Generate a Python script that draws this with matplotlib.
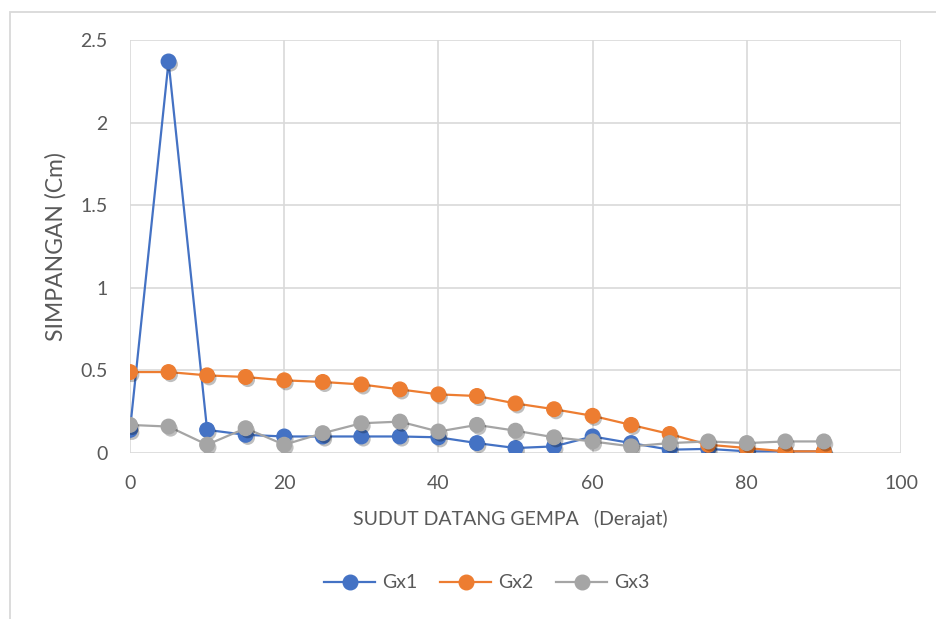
import numpy as np
import matplotlib.pyplot as plt
import matplotlib.patheffects as pe
from matplotlib.patches import Rectangle

plt.rcParams["font.family"] = ["Lato", "DejaVu Sans"]
plt.rcParams["font.size"] = 14

# sudut datang gempa (derajat)
sudut = [0, 5, 10, 15, 20, 25, 30, 35, 40, 45, 50, 55, 60, 65, 70, 75, 80, 85, 90]
# simpangan (cm)
gx1 = [0.14, 2.37, 0.14, 0.11, 0.10, 0.10, 0.10, 0.10, 0.095, 0.06, 0.03, 0.04,
       0.10, 0.06, 0.02, 0.025, 0.01, 0.01, 0.01]
gx2 = [0.49, 0.49, 0.47, 0.46, 0.44, 0.43, 0.415, 0.385, 0.355, 0.345, 0.30, 0.265,
       0.225, 0.17, 0.115, 0.05, 0.03, 0.01, 0.01]
gx3 = [0.17, 0.16, 0.05, 0.15, 0.05, 0.12, 0.18, 0.19, 0.13, 0.17, 0.135, 0.095,
       0.07, 0.04, 0.06, 0.07, 0.06, 0.07, 0.07]
nama = ["Gx1", "Gx2", "Gx3"]
warna = ["#4472C4", "#ED7D31", "#A5A5A5"]

teks = "#595959"
garis = "#D9D9D9"

fig = plt.figure(figsize=(9.36, 6.19), dpi=100)
# bingkai luar chart
fig.patches.append(Rectangle((10 / 936, -0.1), 1.2, 1.1 - 12 / 619,
                             transform=fig.transFigure, fill=False,
                             edgecolor=garis, linewidth=1.3))
ax = fig.add_axes([130 / 936, 1 - 453 / 619, 771 / 936, 413 / 619])

bayangan = [pe.SimplePatchShadow(offset=(1.5, -2), shadow_rgbFace="k", alpha=0.25), pe.Normal()]
for y, n, c in zip([gx1, gx2, gx3], nama, warna):
    ax.plot(sudut, y, color=c, lw=1.6, zorder=3)
    ax.plot(sudut, y, ls="none", marker="o", ms=10.5, color=c, mec=c,
            path_effects=bayangan, zorder=3)
    ax.plot([], [], color=c, lw=1.6, marker="o", ms=10.5, label=n)

ax.set_xlim(0, 100)
ax.set_ylim(0, 2.5)
ax.set_xticks(np.arange(0, 101, 20))
ax.set_yticks([0, 0.5, 1, 1.5, 2, 2.5])
ax.set_yticklabels(["0", "0.5", "1", "1.5", "2", "2.5"])
ax.grid(True, color=garis, lw=1.2)
ax.set_axisbelow(True)
for s in ax.spines.values():
    s.set_visible(False)
ax.tick_params(length=0, colors=teks, labelsize=14)
ax.tick_params(axis="x", pad=16)
ax.tick_params(axis="y", pad=16)

ax.set_xlabel("SUDUT DATANG GEMPA   (Derajat)", color=teks, fontsize=14)
ax.xaxis.set_label_coords(0.493, -0.138)
ax.set_ylabel("SIMPANGAN (Cm)", color=teks, fontsize=16.5)
ax.yaxis.set_label_coords(-0.082, 0.5)

leg = fig.legend(loc="center", bbox_to_anchor=(0.52, 1 - 583 / 619), ncol=3,
                 frameon=False, handlelength=2.6, columnspacing=1.2,
                 handletextpad=0.35, fontsize=14)
for t in leg.get_texts():
    t.set_color(teks)

fig.savefig("out.png", dpi=100)
